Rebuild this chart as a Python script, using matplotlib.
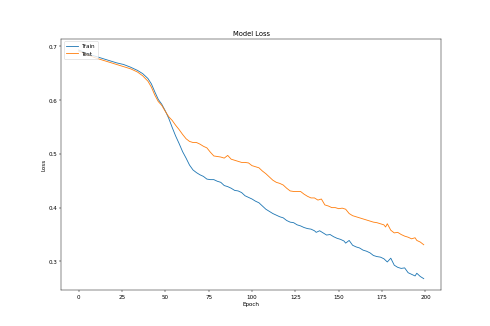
import matplotlib
matplotlib.use("Agg")
import matplotlib.pyplot as plt

train_epochs = [0, 3, 6, 10, 14, 18, 22, 26, 30, 34, 37, 40, 42, 44, 46, 48, 50, 52, 54, 56,
                58, 60, 62, 64, 66, 68, 70, 72, 74, 76, 78, 80, 82, 84, 86, 88, 90, 92, 94, 96,
                98, 100, 102, 104, 106, 108, 110, 112, 114, 116, 118, 120, 122, 124, 126, 128,
                130, 132, 134, 136, 137, 139, 141, 143, 145, 147, 149, 151, 153, 154, 156, 158,
                160, 162, 164, 166, 168, 170, 172, 174, 176, 178, 180, 182, 184, 186, 188, 190,
                192, 194, 195, 197, 199]
train_loss = [0.693, 0.689, 0.685, 0.681, 0.677, 0.673, 0.669, 0.666, 0.661, 0.655, 0.649, 0.640,
              0.630, 0.615, 0.601, 0.592, 0.580, 0.566, 0.549, 0.533, 0.519, 0.504, 0.492, 0.479,
              0.470, 0.465, 0.461, 0.458, 0.453, 0.452, 0.452, 0.449, 0.447, 0.441, 0.439, 0.436,
              0.432, 0.431, 0.428, 0.422, 0.419, 0.416, 0.412, 0.409, 0.403, 0.397, 0.393, 0.389,
              0.386, 0.383, 0.381, 0.376, 0.373, 0.372, 0.368, 0.366, 0.363, 0.361, 0.360, 0.357,
              0.354, 0.357, 0.353, 0.349, 0.350, 0.346, 0.343, 0.341, 0.338, 0.334, 0.339, 0.330,
              0.327, 0.325, 0.321, 0.319, 0.316, 0.311, 0.309, 0.308, 0.305, 0.299, 0.306, 0.293,
              0.289, 0.287, 0.288, 0.279, 0.276, 0.273, 0.278, 0.272, 0.268]

test_epochs = [0, 3, 6, 10, 14, 18, 22, 26, 30, 34, 37, 40, 42, 44, 46, 48, 50, 52, 54, 56,
               58, 60, 62, 64, 66, 68, 70, 72, 74, 76, 78, 80, 82, 84, 86, 88, 90, 92, 94, 96,
               98, 100, 102, 104, 106, 108, 110, 112, 114, 116, 118, 120, 122, 124, 126, 128,
               130, 132, 134, 136, 138, 140, 142, 144, 146, 148, 150, 152, 154, 156, 158, 160,
               162, 164, 166, 168, 170, 172, 174, 176, 177, 178, 180, 182, 184, 186, 188, 190,
               192, 194, 195, 197, 199]
test_loss = [0.691, 0.687, 0.683, 0.678, 0.674, 0.670, 0.666, 0.662, 0.658, 0.652, 0.645, 0.635,
             0.624, 0.609, 0.597, 0.590, 0.579, 0.569, 0.562, 0.553, 0.545, 0.536, 0.528, 0.523,
             0.521, 0.521, 0.518, 0.514, 0.511, 0.503, 0.496, 0.495, 0.494, 0.492, 0.497, 0.490,
             0.488, 0.486, 0.484, 0.484, 0.483, 0.478, 0.476, 0.474, 0.468, 0.463, 0.457, 0.451,
             0.447, 0.445, 0.442, 0.436, 0.431, 0.430, 0.430, 0.430, 0.425, 0.421, 0.418, 0.418,
             0.414, 0.416, 0.405, 0.403, 0.400, 0.400, 0.398, 0.399, 0.397, 0.389, 0.385, 0.383,
             0.381, 0.379, 0.377, 0.375, 0.373, 0.372, 0.370, 0.368, 0.364, 0.370, 0.358, 0.353,
             0.354, 0.350, 0.347, 0.345, 0.342, 0.344, 0.339, 0.336, 0.331]

fig, ax = plt.subplots(figsize=(12, 8))
ax.plot(train_epochs, train_loss, label="Train")
ax.plot(test_epochs, test_loss, label="Test")
ax.set_title("Model Loss")
ax.set_xlabel("Epoch")
ax.set_ylabel("Loss")
ax.legend(loc="upper left")

plt.savefig("out.png", dpi=490 / 12)
